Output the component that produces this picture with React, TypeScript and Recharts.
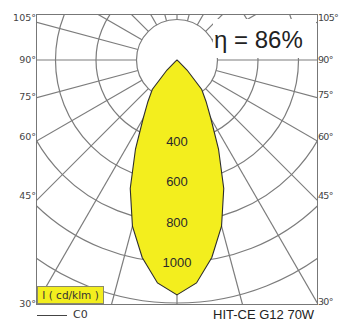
import { RadarChart, Radar, PolarGrid, PolarAngleAxis, PolarRadiusAxis } from 'recharts';

// C0 plane, gamma angle from nadir (deg) -> intensity (cd/klm)
const gammaAngles = [
  0, 5, 10, 15, 20, 25, 30, 35, 40, 45, 50, 55, 60, 65, 70, 75, 80, 85, 90,
  95, 100, 105, 110, 115, 120, 125, 130, 135, 140, 145, 150, 155, 160, 165, 170, 175, 180,
];
const intensityC0 = [
  1160, 1105, 990, 850, 675, 485, 335, 250, 190, 70, 10, 0, 0, 0, 0, 0, 0, 0, 0,
  0, 0, 0, 0, 0, 0, 0, 0, 0, 0, 0, 0, 0, 0, 0, 0, 0, 0,
];

const gridAngles = [0, 15, 30, 45, 60, 75, 90, 105, 120, 135, 150, 165, 180, 195, 210, 225, 240, 255, 270, 285, 300, 315, 330, 345];
const radiusDomain = [200, 1400];
const labelledTicks = [400, 600, 800, 1000];

const leftLabels = ['105°', '90°', '75°', '60°', '45°', '30°'];
const leftLabelY = [18, 60, 97, 137, 196, 304];
const rightLabels = ['105°', '90°', '75°', '60°', '45°', '30°'];
const rightLabelY = [18, 60, 95, 137, 196, 302];

const efficiency = 'η = 86%';
const unitLabel = 'I ( cd/klm )';
const planeLabel = 'C0';
const lampLabel = 'HIT-CE G12 70W';

// full circle, mirrored C0 / C180
const radarData = [
  ...gammaAngles.map((g, i) => ({ angle: g, value: intensityC0[i] })),
  ...gammaAngles
    .slice(1, -1)
    .reverse()
    .map((g) => ({ angle: 360 - g, value: intensityC0[gammaAngles.indexOf(g)] })),
];

const YELLOW = '#f3ee1e';
const GRID = '#7c7c7c';
const OUTER = 283.5;
const INNER = (OUTER * radiusDomain[0]) / radiusDomain[1];
const SMALL_FONT = "'DejaVu Sans', Verdana, sans-serif";

const IntensityTick = (props: any) => {
  const { x, y, payload } = props;
  if (!labelledTicks.includes(payload.value)) return <g />;
  const w = String(payload.value).length * 7.6 + 2;
  return (
    <g>
      <rect x={x - w / 2} y={y - 6} width={w} height={12} fill={YELLOW} />
      <text x={x} y={y} textAnchor="middle" dominantBaseline="central" fontSize={13} fill="#2a2a2a" fontFamily="Arial, 'Liberation Sans', sans-serif">
        {payload.value}
      </text>
    </g>
  );
};

export default function App() {
  return (
    <div
      style={{
        position: 'absolute',
        left: 0,
        top: 0,
        width: 339,
        height: 325,
        overflow: 'hidden',
        background: '#fff',
        fontFamily: "Arial, 'Liberation Sans', sans-serif",
      }}
    >
      <div style={{ position: 'absolute', left: 36, top: 14, width: 282, height: 291, overflow: 'hidden' }}>
        <RadarChart
          width={282}
          height={291}
          data={radarData}
          cx={141}
          cy={46}
          innerRadius={INNER}
          outerRadius={OUTER}
          startAngle={-90}
          endAngle={270}
          margin={{ top: 0, right: 0, bottom: 0, left: 0 }}
        >
          <PolarAngleAxis dataKey="angle" type="number" domain={[0, 360]} tick={false} axisLine={false} tickLine={false} />
          <Radar
            dataKey="value"
            stroke="#2e2e2e"
            strokeWidth={1.1}
            fill={YELLOW}
            fillOpacity={1}
            dot={false}
            isAnimationActive={false}
          />
          <PolarGrid gridType="circle" polarAngles={gridAngles} stroke={GRID} strokeWidth={1.2} />
          <PolarRadiusAxis
            angle={-90}
            domain={radiusDomain}
            tickCount={7}
            allowDataOverflow
            axisLine={false}
            tickLine={false}
            tick={<IntensityTick />}
          />
        </RadarChart>
        <div
          style={{
            position: 'absolute',
            inset: 0,
            border: '1.5px solid #777',
            boxSizing: 'border-box',
            pointerEvents: 'none',
          }}
        />
      </div>

      {/* efficiency label */}
      <div style={{ position: 'absolute', left: 213, top: 19, width: 103, height: 39, background: '#fff' }}>
        <span style={{ position: 'absolute', left: 1, top: 9, fontSize: 24, lineHeight: '24px', color: '#222', whiteSpace: 'nowrap' }}>
          {efficiency}
        </span>
      </div>

      {leftLabels.map((t, i) => (
        <div
          key={'l' + i}
          style={{ position: 'absolute', right: 339 - 36, top: leftLabelY[i] - 6, fontSize: 9.5, lineHeight: '12px', color: '#444', fontFamily: SMALL_FONT }}
        >
          {t}
        </div>
      ))}
      {rightLabels.map((t, i) => (
        <div
          key={'r' + i}
          style={{
            position: 'absolute',
            left: 318,
            top: rightLabelY[i] - 6,
            fontSize: 9.5,
            lineHeight: '12px',
            color: '#444',
            whiteSpace: 'nowrap',
            fontFamily: SMALL_FONT,
            letterSpacing: -0.7,
          }}
        >
          {t}
        </div>
      ))}

      {/* legend */}
      <div
        style={{
          position: 'absolute',
          left: 37,
          top: 286,
          width: 67,
          height: 18,
          background: YELLOW,
          border: '1px solid #8a8a6a',
          boxSizing: 'border-box',
          fontSize: 10.5,
          lineHeight: '16px',
          textAlign: 'center',
          color: '#333',
          fontFamily: SMALL_FONT,
          whiteSpace: 'nowrap',
        }}
      >
        {unitLabel}
      </div>
      <div style={{ position: 'absolute', left: 37, top: 315, width: 30, borderTop: '1px solid #444' }} />
      <div style={{ position: 'absolute', left: 73, top: 309, fontSize: 11, lineHeight: '12px', color: '#333', fontFamily: SMALL_FONT }}>
        {planeLabel}
      </div>
      <div style={{ position: 'absolute', left: 213, top: 308, fontSize: 13, lineHeight: '14px', color: '#222', whiteSpace: 'nowrap' }}>
        {lampLabel}
      </div>
    </div>
  );
}
